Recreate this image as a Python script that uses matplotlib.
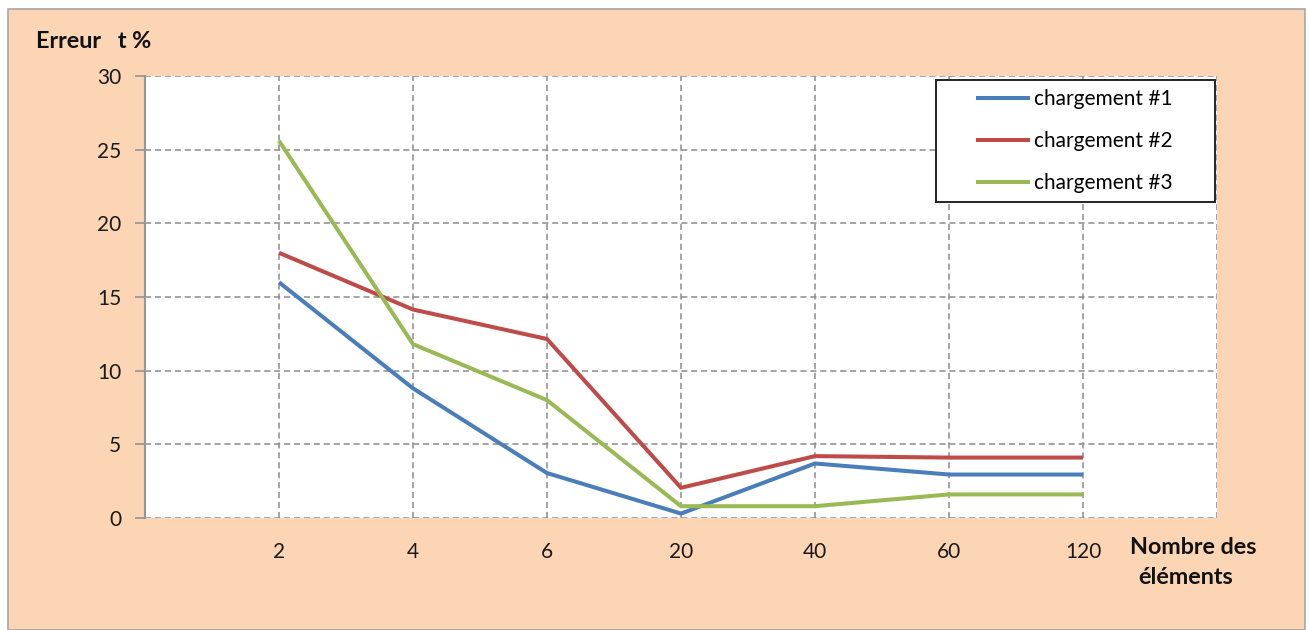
import matplotlib
matplotlib.use("Agg")
import matplotlib.pyplot as plt
from matplotlib.patches import Rectangle
from matplotlib.lines import Line2D
import numpy as np

# Data
categories = ["2", "4", "6", "20", "40", "60", "120"]
charge1 = [16.0, 8.8, 3.05, 0.3, 3.7, 2.95, 2.95]
charge2 = [18.0, 14.15, 12.15, 2.05, 4.2, 4.1, 4.1]
charge3 = [25.6, 11.8, 8.0, 0.8, 0.8, 1.6, 1.6]
series_names = ["chargement #1", "chargement #2", "chargement #3"]
y_ticks = [0, 5, 10, 15, 20, 25, 30]

colors = ["#4A7EBB", "#BE4B48", "#98B954"]
bg_orange = "#FCD5B4"
grid_grey = "#8C8C8C"
font = "Lato"

W, H = 1310, 630
fig = plt.figure(figsize=(W / 100, H / 100), dpi=100)
fig.patch.set_facecolor("white")

# Chart area frame
fig.patches.append(Rectangle((8 / W, 0), (1305 - 8) / W, (630 - 9) / H,
                             transform=fig.transFigure, facecolor=bg_orange,
                             edgecolor="#A6A6A6", linewidth=1.2, zorder=-10))

left, right, top, bottom = 145, 1217, 76, 518
ax = fig.add_axes([left / W, (H - bottom) / H, (right - left) / W, (bottom - top) / H])
ax.set_zorder(1)
ax.set_facecolor("white")

x = np.arange(1, len(categories) + 1)
for vals, c, name in zip([charge1, charge2, charge3], colors, series_names):
    ax.plot(x, vals, color=c, linewidth=2.9, label=name, zorder=3,
            solid_joinstyle="miter", solid_capstyle="butt")

ax.set_xlim(0, len(categories) + 1)
ax.set_ylim(0, 30)

# Dashed grid
dash = dict(color=grid_grey, linewidth=1.1, dashes=(4, 2.5), zorder=1)
for yv in y_ticks:
    ax.axhline(yv, **dash)
for xv in list(x) + [len(categories) + 1]:
    ax.axvline(xv, **dash)

for s in ["top", "right", "bottom"]:
    ax.spines[s].set_visible(False)
ax.spines["left"].set_color("#969696")
ax.spines["left"].set_linewidth(1.5)
ax.spines["left"].set_zorder(2)

ax.set_yticks(y_ticks)
ax.set_yticklabels([str(v) for v in y_ticks])
ax.set_xticks(x)
ax.set_xticklabels(categories)
ax.tick_params(axis="y", length=7, width=1.1, color=grid_grey, pad=10,
               labelsize=15, labelcolor="#1a1a1a")
ax.tick_params(axis="x", length=0, pad=17, labelsize=15, labelcolor="#1a1a1a")
for lab in ax.get_xticklabels() + ax.get_yticklabels():
    lab.set_fontfamily(font)

# Axis titles
fig.text(36 / W, 1 - 42 / H, "Erreur   t %", fontsize=16.8, fontweight="bold",
         family=font, ha="left", va="center", color="#111111")
fig.text(1130 / W, 1 - 547 / H, "Nombre des", fontsize=16.8, fontweight="bold",
         family=font, ha="left", va="center", color="#111111")
fig.text(1138 / W, 1 - 577 / H, "éléments", fontsize=16.8, fontweight="bold",
         family=font, ha="left", va="center", color="#111111")

# Legend box
lx0, lx1, ly0, ly1 = 936, 1215, 80, 202
ax.add_patch(Rectangle(((lx0 - left) / (right - left), (bottom - ly1) / (bottom - top)),
                       (lx1 - lx0) / (right - left), (ly1 - ly0) / (bottom - top),
                       transform=ax.transAxes, facecolor="white", edgecolor="#222222",
                       linewidth=1.4, zorder=5, clip_on=False))
handles = [Line2D([], [], color=c, linewidth=2.9) for c in colors]
leg = ax.legend(handles, series_names, loc="center",
                bbox_to_anchor=(((lx0 + lx1) / 2 - left) / (right - left),
                                (bottom - (ly0 + ly1) / 2) / (bottom - top)),
                frameon=False, prop={"family": font, "size": 15},
                handlelength=2.4, handletextpad=0.3, labelspacing=1.05,
                borderaxespad=0)
leg.set_zorder(6)

fig.savefig("out.png", dpi=100, facecolor=fig.get_facecolor())
